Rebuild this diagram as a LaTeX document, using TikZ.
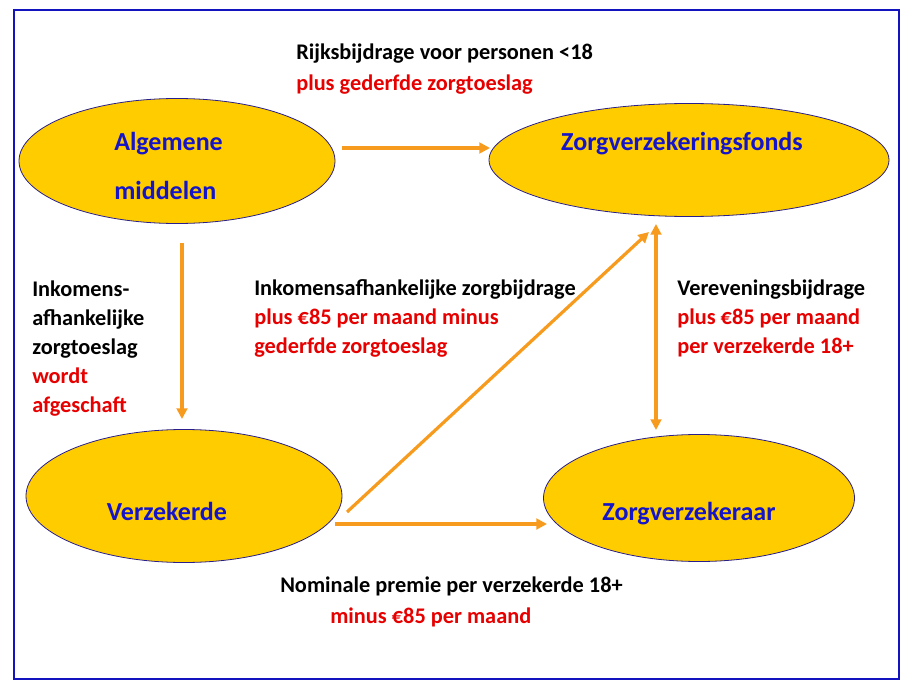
\documentclass[tikz,border=0pt]{standalone}
\usepackage{fontspec}
\setmainfont{Carlito}
\usetikzlibrary{arrows.meta,shapes.geometric}
\definecolor{gold}{RGB}{255,204,0}
\definecolor{navy}{RGB}{40,30,140}
\definecolor{txtblue}{RGB}{20,20,200}
\definecolor{txtred}{RGB}{230,0,0}
\definecolor{arr}{RGB}{247,155,30}
\definecolor{frame}{RGB}{20,20,190}
\tikzset{
  oval/.style={ellipse, draw=navy, line width=0.6pt, fill=gold, inner sep=0pt},
  lbl/.style={anchor=base west, inner sep=0pt, font=\bfseries\fontsize{16.75}{20}\selectfont},
  blk/.style={lbl, text=black},
  rd/.style={lbl, text=txtred},
  ovtxt/.style={anchor=base west, inner sep=0pt, text=txtblue, font=\bfseries\fontsize{19.5}{22}\selectfont},
  flow/.style={draw=arr, line width=2.4pt, -{Triangle[length=8pt,width=8pt]}},
  flow2/.style={draw=arr, line width=2.4pt, {Triangle[length=8pt,width=8pt]}-{Triangle[length=8pt,width=8pt]}}
}
\begin{document}
\begin{tikzpicture}[x=0.75pt,y=-0.75pt]
\useasboundingbox (0,0) rectangle (911,692);
\draw[frame, line width=0.9pt] (14,10) rectangle (899,679);

% ellipses (sizes in pt = px * 0.75)
\node[oval, minimum width=237pt, minimum height=93.75pt] (alg) at (177,161) {};
\node[oval, minimum width=300pt, minimum height=84.75pt] (fonds) at (689,160) {};
\node[oval, minimum width=237pt, minimum height=99.75pt] (verz) at (184,496) {};
\node[oval, minimum width=233.25pt, minimum height=95.25pt] (zv) at (699,498) {};

% ellipse texts
\node[ovtxt] (algt1) at (114,151) {Algemene};
\node[ovtxt] (algt2) at (114,199) {middelen};
\node[ovtxt, anchor=base] (fondst) at (682,151) {Zorgverzekeringsfonds};
\node[ovtxt, anchor=base] (verzt) at (167,520) {Verzekerde};
\node[ovtxt, anchor=base] (zvt) at (689,520) {Zorgverzekeraar};

% labels
\node[blk] (r1) at (296,60) {Rijksbijdrage voor personen <18};
\node[rd] (r2) at (296,91) {plus gederfde zorgtoeslag};

\node[blk] (l1) at (32,296) {Inkomens-};
\node[blk] (l2) at (32,325) {afhankelijke};
\node[blk] (l3) at (32,354) {zorgtoeslag};
\node[rd] (l4) at (32,383) {wordt};
\node[rd] (l5) at (32,412) {afgeschaft};

\node[blk] (m1) at (254,295) {Inkomensafhankelijke zorgbijdrage};
\node[rd] (m2) at (254,324) {plus €85 per maand minus};
\node[rd] (m3) at (254,353) {gederfde zorgtoeslag};

\node[blk] (v1) at (677,295) {Vereveningsbijdrage};
\node[rd] (v2) at (677,324) {plus €85 per maand};
\node[rd] (v3) at (677,353) {per verzekerde 18+};

\node[blk] (n1) at (280,592) {Nominale premie per verzekerde 18+};
\node[rd] (n2) at (330,623) {minus €85 per maand};

% connector end points
\coordinate (a1s) at (342,148);
\coordinate (a1e) at (490,148);
\coordinate (a2s) at (182,243);
\coordinate (a2e) at (182,419);
\coordinate (a3s) at (347,512);
\coordinate (a3e) at (649,232);
\coordinate (a4s) at (656,224);
\coordinate (a4e) at (656,430);
\coordinate (a5s) at (335,524);
\coordinate (a5e) at (547,524);

\draw[flow] (a1s) -- (a1e);
\draw[flow] (a2s) -- (a2e);
\draw[flow] (a3s) -- (a3e);
\draw[flow2] (a4s) -- (a4e);
\draw[flow] (a5s) -- (a5e);
\end{tikzpicture}
\end{document}
